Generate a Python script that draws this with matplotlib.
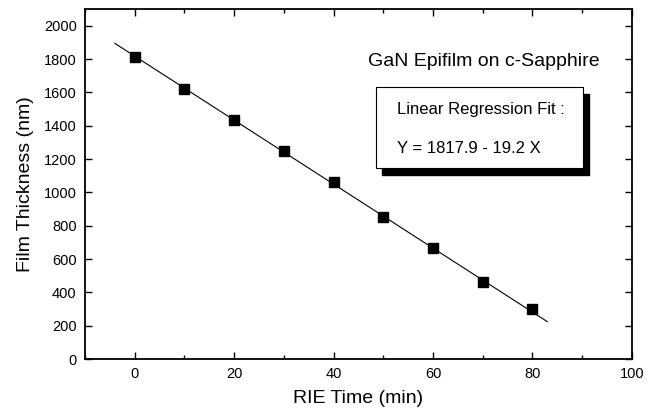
import matplotlib
matplotlib.use("Agg")
import matplotlib.pyplot as plt
import numpy as np
from matplotlib.patches import Rectangle
from matplotlib.ticker import MultipleLocator

plt.rcParams['font.family'] = ['Liberation Sans', 'DejaVu Sans']

# measured data
rie_time = [0, 10, 20, 30, 40, 50, 60, 70, 80]
thickness = [1815, 1622, 1432, 1247, 1063, 850, 668, 460, 300]

# regression fit shown in the chart
fit_intercept = 1817.9
fit_slope = -19.2
fit_range = [-4, 83]

fig = plt.figure(figsize=(6.54, 4.16), dpi=100)
ax = fig.add_axes([0.130, 0.137, 0.836, 0.841])

xf = np.array(fit_range, dtype=float)
ax.plot(xf, fit_intercept + fit_slope * xf, color='black', linewidth=0.8)
ax.plot(rie_time, thickness, linestyle='none', marker='s', markersize=6.5,
        color='black')

ax.set_xlim(-10, 100)
ax.set_ylim(0, 2100)
ax.xaxis.set_major_locator(MultipleLocator(20))
ax.xaxis.set_minor_locator(MultipleLocator(10))
ax.yaxis.set_major_locator(MultipleLocator(200))
ax.tick_params(which='major', direction='in', length=5, width=1.0,
               top=True, right=True, labelsize=10.5, pad=6)
ax.tick_params(which='minor', direction='in', length=3, width=1.0,
               top=True, right=False)
for s in ax.spines.values():
    s.set_linewidth(1.3)

ax.set_xlabel('RIE Time (min)', fontsize=14, labelpad=6)
ax.set_ylabel('Film Thickness (nm)', fontsize=14, labelpad=7)

ax.text(0.517, 0.851, 'GaN Epifilm on c-Sapphire', transform=ax.transAxes,
        fontsize=14, va='center', ha='left')

# boxed annotation with drop shadow
bx, by, bw, bh = 0.532, 0.546, 0.378, 0.231
ax.add_patch(Rectangle((bx + 0.011, by - 0.019), bw, bh, transform=ax.transAxes,
                       facecolor='black', edgecolor='black', zorder=3))
ax.add_patch(Rectangle((bx, by), bw, bh, transform=ax.transAxes,
                       facecolor='white', edgecolor='black', linewidth=0.8,
                       zorder=4))
ax.text(0.570, 0.714, 'Linear Regression Fit :', transform=ax.transAxes,
        fontsize=12, va='center', ha='left', zorder=5)
ax.text(0.570, 0.603, 'Y = 1817.9 - 19.2 X', transform=ax.transAxes,
        fontsize=12, va='center', ha='left', zorder=5)

fig.savefig('out.png', dpi=100)
